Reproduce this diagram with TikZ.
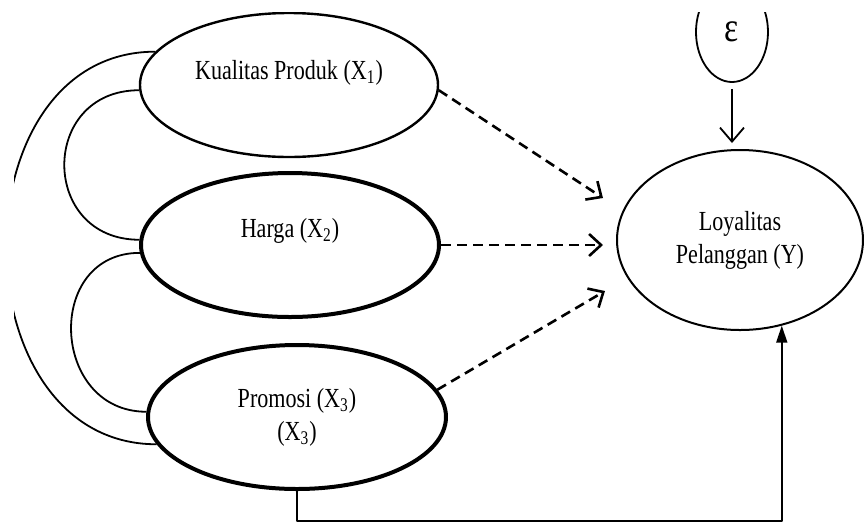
\documentclass[tikz,border=0pt]{standalone}
\usepackage{fontspec}
\setmainfont{Liberation Serif}[FakeStretch=0.8]
\usetikzlibrary{shapes.geometric,arrows.meta}
\begin{document}
\begin{tikzpicture}[x=0.5pt,y=-0.5pt,line join=round,font=\fontsize{13.8}{16.5}\selectfont,
	var/.style={draw,ellipse,minimum width=149pt,minimum height=72pt,inner sep=0pt,align=center},
	dasharrow/.style={dash pattern=on 5pt off 3pt,line width=1.3pt,-{Straight Barb[length=6pt,width=11pt]}},
	link/.style={line width=0.9pt}]
	\useasboundingbox (0,0) rectangle (864,527);
	\clip (14,12) rectangle (864,527);
	% variabel bebas
	\node[var,line width=1.2pt,text depth=15pt] (X1) at (289,85) {Kualitas Produk (X\textsubscript{1})};
	\node[var,line width=2pt,text depth=17pt] (X2) at (290,245) {Harga (X\textsubscript{2})};
	\node[var,line width=2pt] (X3) at (297,417) {Promosi (X\textsubscript{3})\\(X\textsubscript{3})};
	% variabel terikat
	\node[draw,ellipse,minimum width=123pt,minimum height=90pt,inner sep=0pt,align=center,line width=1pt] (Y) at (740,240) {Loyalitas\\Pelanggan (Y)};
	\node[draw,ellipse,minimum width=36pt,minimum height=50pt,inner sep=0pt,line width=0.9pt,font=\fontsize{21}{21}\selectfont] (E) at (732,32) {ε};
	% ujung panah
	\coordinate (h1) at (603,198);
	\coordinate (h2) at (603,245);
	\coordinate (h3) at (605,291);
	\draw[dasharrow] (X1.-2) -- (h1);
	\draw[dasharrow] (X2.east) -- (h2);
	\draw[dasharrow] (X3.11) -- (h3);
	\draw[link,-{Straight Barb[length=7pt,width=12pt]},shorten <=3pt,shorten >=3pt] (E.south) -- (E.south |- Y.north);
	\draw[link,-{Triangle[length=8.5pt,width=5.5pt]}] (X3.south) -- ++(0,30) -| (Y.-64);
	% korelasi
	\draw[link] (X1.166) .. controls +(-200,0) and +(-200,0) .. (X3.191);
	\draw[link] (X1.182) .. controls +(-100,0) and +(-100,0) .. (X2.178);
	\draw[link] (X2.183) .. controls +(-96,0) and +(-96,0) .. (X3.178);
\end{tikzpicture}
\end{document}
